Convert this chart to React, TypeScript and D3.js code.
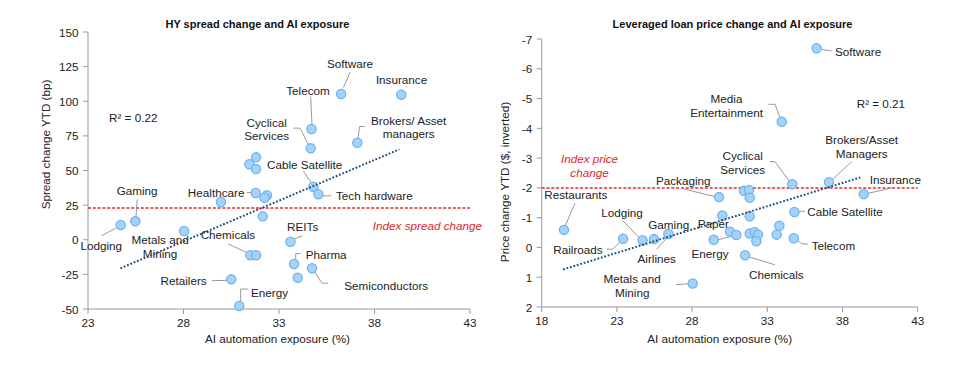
import React from "react";
import * as d3 from "d3";

// ---------------- Data: HY spread chart ----------------
const hySectors = [
  "Software", "Insurance", "Telecom", "Cyclical Services", "Brokers/ Asset managers",
  "", "", "", "Cable Satellite", "Tech hardware", "Healthcare", "", "", "", "",
  "Gaming", "Lodging", "Metals and Mining", "REITs", "Chemicals", "", "Pharma",
  "Semiconductors", "", "Retailers", "Energy",
];
const hyExposure = [
  36.25, 39.4, 34.7, 34.66, 37.1, 31.8, 31.45, 31.8, 34.8, 35.06, 31.78, 32.37, 32.25,
  29.96, 32.15, 25.48, 24.71, 28.03, 33.6, 31.5, 31.8, 33.79, 34.73, 33.98, 30.5, 30.92,
];
const hySpread = [
  105.2, 104.7, 80, 66, 70, 59.5, 54.5, 51, 38.3, 32.8, 33.8, 32.1, 30.3,
  27.3, 16.9, 13.3, 10.6, 6.3, -1.4, -11.2, -11.2, -17.5, -20.6, -27.4, -28.6, -47.8,
];
const hyXTicks = [23, 28, 33, 38, 43];
const hyYTicks = [150, 125, 100, 75, 50, 25, 0, -25, -50];
const hyIndex = 22.9;
const hyTrendX = [24.7, 39.3];
const hyTrendY = [-20.6, 65.3];
const hyR2 = "R² = 0.22";

// ---------------- Data: Leveraged loan chart ----------------
const loanSectors = [
  "Software", "Media Entertainment", "Cyclical Services", "Brokers/Asset Managers", "Insurance",
  "Cable Satellite", "Telecom", "Chemicals", "Packaging", "Restaurants", "Lodging", "Railroads",
  "Gaming", "Airlines", "Paper", "", "", "Energy", "", "", "", "", "", "", "", "", "", "",
  "Metals and Mining",
];
const loanExposure = [
  36.28, 33.96, 34.66, 37.1, 39.41, 34.8, 34.76, 31.52, 29.79, 19.48, 24.71, 23.41,
  25.47, 26.42, 30.01, 29.44, 30.52, 30.94, 31.45, 31.78, 31.83, 31.83, 31.83, 32.16,
  32.38, 32.27, 33.62, 33.8, 28.04,
];
const loanPrice = [
  -6.69, -4.22, -2.12, -2.19, -1.79, -1.19, -0.31, 0.26, -1.69, -0.59, -0.24, -0.29,
  -0.28, -0.45, -1.07, -0.26, -0.53, -0.42, -1.9, -1.93, -1.67, -1.05, -0.47, -0.51,
  -0.43, -0.21, -0.43, -0.73, 1.21,
];
const loanXTicks = [18, 23, 28, 33, 38, 43];
const loanYTicks = [-7, -6, -5, -4, -3, -2, -1, 0, 1, 2];
const loanIndex = -2.0;
const loanTrendX = [19.42, 39.18];
const loanTrendY = [0.74, -2.35];
const loanR2 = "R² = 0.21";

// ---------------- Layout (label placement, pixel offsets) ----------------
type Lbl = { name: string; lines: string[]; dx: number; dy: number; anchor: string; leader: number[][] };

const hyLabels: Lbl[] = [
  { name: "Software", lines: ["Software"], dx: 9, dy: -30.7, anchor: "middle", leader: [[9, -22], [2.4, -6.5]] },
  { name: "Insurance", lines: ["Insurance"], dx: 0.3, dy: -15.7, anchor: "middle", leader: [] },
  { name: "Telecom", lines: ["Telecom"], dx: -3.5, dy: -38.5, anchor: "middle", leader: [[-0.8, -32.5], [0.5, -4.5]] },
  { name: "Cyclical Services", lines: ["Cyclical", "Services"], dx: -44, dy: -26.2, anchor: "middle", leader: [[-17.4, -20.2], [-10.7, -20.2], [-2.2, -3.4]] },
  { name: "Brokers/ Asset managers", lines: ["Brokers/ Asset", "managers"], dx: 51.4, dy: -22.8, anchor: "middle", leader: [[7.7, -16.3], [2.2, -16.3], [0.7, -4.3]] },
  { name: "Cable Satellite", lines: ["Cable Satellite"], dx: -8.7, dy: -22.7, anchor: "middle", leader: [[-10.1, -15.7], [-1.7, -3.4]] },
  { name: "Tech hardware", lines: ["Tech hardware"], dx: 17.7, dy: 1.5, anchor: "start", leader: [[4.5, 1.5], [13, 1.5]] },
  { name: "Healthcare", lines: ["Healthcare"], dx: -11.3, dy: -0.4, anchor: "end", leader: [[-8.8, -0.4], [-4.5, -0.4]] },
  { name: "Gaming", lines: ["Gaming"], dx: 1.8, dy: -30.7, anchor: "middle", leader: [[1.9, -22.1], [0.6, -4.4]] },
  { name: "Lodging", lines: ["Lodging"], dx: -19.4, dy: 20.9, anchor: "middle", leader: [[-19, 10.6], [-4.7, 3.2]] },
  { name: "Metals and Mining", lines: ["Metals and", "Mining"], dx: -24, dy: 8.8, anchor: "middle", leader: [] },
  { name: "REITs", lines: ["REITs"], dx: 12.2, dy: -15, anchor: "middle", leader: [[3.5, -2.5], [12, -6]] },
  { name: "Chemicals", lines: ["Chemicals"], dx: -22.4, dy: -20.3, anchor: "middle", leader: [[-22.1, -11.3], [-2.1, -2]] },
  { name: "Pharma", lines: ["Pharma"], dx: 11.6, dy: -9.4, anchor: "start", leader: [[6.6, -10.4], [1.6, -10.4], [1.6, -4]] },
  { name: "Semiconductors", lines: ["Semiconductors"], dx: 32.3, dy: 17.3, anchor: "start", leader: [[2.5, 3.1], [9.7, 14.9], [16.3, 14.9]] },
  { name: "Retailers", lines: ["Retailers"], dx: -24.6, dy: 1.6, anchor: "end", leader: [[-19.6, 1.3], [-4.6, 1]] },
  { name: "Energy", lines: ["Energy"], dx: 11.7, dy: -13.9, anchor: "start", leader: [[9, -16.9], [1.4, -16.9], [1.4, -4.9]] },
];

const loanLabels: Lbl[] = [
  { name: "Software", lines: ["Software"], dx: 18.4, dy: 2.8, anchor: "start", leader: [[4.9, 1.1], [15, 2.8]] },
  { name: "Media Entertainment", lines: ["Media", "Entertainment"], dx: -55.2, dy: -23.5, anchor: "middle", leader: [[-13.4, -17.5], [-6.7, -17.5], [-1.7, -3.8]] },
  { name: "Cyclical Services", lines: ["Cyclical", "Services"], dx: -49.6, dy: -28.4, anchor: "middle", leader: [[-22.3, -22.7], [-17.3, -22.7], [-2.8, -2.9]] },
  { name: "Brokers/Asset Managers", lines: ["Brokers/Asset", "Managers"], dx: 32.7, dy: -42.3, anchor: "middle", leader: [[22.7, -20.6], [3.5, -2.8]] },
  { name: "Insurance", lines: ["Insurance"], dx: 31.6, dy: -14.9, anchor: "middle", leader: [[29.6, -6.5], [4.6, -0.9]] },
  { name: "Cable Satellite", lines: ["Cable Satellite"], dx: 12.9, dy: -0.9, anchor: "start", leader: [[4.6, -0.6], [10.5, -0.9]] },
  { name: "Telecom", lines: ["Telecom"], dx: 17.9, dy: 6.8, anchor: "start", leader: [[3.5, 2], [8, 5.5], [14, 6]] },
  { name: "Chemicals", lines: ["Chemicals"], dx: 31.3, dy: 19.7, anchor: "middle", leader: [[4, 1.7], [30, 9.7]] },
  { name: "Packaging", lines: ["Packaging"], dx: -35.8, dy: -16.5, anchor: "middle", leader: [[-35.7, -8.2], [-4, -0.5]] },
  { name: "Restaurants", lines: ["Restaurants"], dx: 11.8, dy: -35, anchor: "middle", leader: [[11, -26.7], [1.5, -4.5]] },
  { name: "Lodging", lines: ["Lodging"], dx: -20.6, dy: -27.7, anchor: "middle", leader: [[-19.9, -19.7], [-3.6, -2.9]] },
  { name: "Railroads", lines: ["Railroads"], dx: -20.4, dy: 11.1, anchor: "end", leader: [[-16.4, 10.4], [-10.4, 10.4], [-3.1, 3.1]] },
  { name: "Gaming", lines: ["Gaming"], dx: 14.7, dy: -14.2, anchor: "middle", leader: [] },
  { name: "Airlines", lines: ["Airlines"], dx: -11.6, dy: 24.1, anchor: "middle", leader: [[-11.6, 15.1], [-1.5, 4]] },
  { name: "Paper", lines: ["Paper"], dx: -8.9, dy: 7.5, anchor: "middle", leader: [] },
  { name: "Energy", lines: ["Energy"], dx: -26.3, dy: 18.3, anchor: "middle", leader: [[-22, 6], [-4, 1]] },
  { name: "Metals and Mining", lines: ["Metals and", "Mining"], dx: -60.5, dy: -4.7, anchor: "middle", leader: [[-16.7, 1.3], [-4.7, 0.3]] },
];

const FONT = "'Liberation Sans', Arial, Helvetica, sans-serif";
const FS = 11.7;
const TEXT = "#222";
const AXIS = "#999";
const LEADER = "#9a9a9a";
const DOT_FILL = "#a6d2f7";
const DOT_STROKE = "#6db4ef";
const TREND = "#1f4e79";
const RED = "#e0282e";

type PanelProps = {
  title: string; titleX: number;
  xTitle: string; xTitleX: number;
  yTitle: string; yTitleX: number; yTitleY: number;
  xDomain: [number, number]; xRange: [number, number];
  yDomain: [number, number]; yRange: [number, number];
  xTicks: number[]; yTicks: number[];
  names: string[]; xs: number[]; ys: number[];
  labels: Lbl[];
  indexVal: number; indexLines: string[]; indexX: number; indexY: number; indexAnchor: string;
  trendX: number[]; trendY: number[];
  r2: string; r2X: number; r2Y: number;
};

function Panel(p: PanelProps) {
  const x = d3.scaleLinear().domain(p.xDomain).range(p.xRange);
  const y = d3.scaleLinear().domain(p.yDomain).range(p.yRange);
  const x0 = p.xRange[0], x1 = p.xRange[1];
  const yBottom = Math.max(p.yRange[0], p.yRange[1]);
  const yTop = Math.min(p.yRange[0], p.yRange[1]);
  const line = d3.line<number[]>().x((d) => d[0]).y((d) => d[1]);
  const LH = 13.8;
  return (
    <g fontFamily={FONT}>
      <text x={p.titleX} y={24} textAnchor="middle" dominantBaseline="central" fontWeight="bold" fontSize={11} fill="#111">{p.title}</text>
      {/* axes */}
      <line x1={x0} x2={x0} y1={yTop} y2={yBottom} stroke={AXIS} strokeWidth={1} />
      <line x1={x0} x2={x1} y1={yBottom} y2={yBottom} stroke={AXIS} strokeWidth={1} />
      {p.yTicks.map((t) => (
        <g key={"yt" + t}>
          <line x1={x0 - 5} x2={x0} y1={y(t)} y2={y(t)} stroke={AXIS} />
          <text x={x0 - 9.5} y={y(t)} textAnchor="end" dominantBaseline="central" fontSize={FS} fill={TEXT}>{t}</text>
        </g>
      ))}
      {p.xTicks.map((t) => (
        <g key={"xt" + t}>
          <line x1={x(t)} x2={x(t)} y1={yBottom} y2={yBottom + 5} stroke={AXIS} />
          <text x={x(t)} y={yBottom + 13.5} textAnchor="middle" dominantBaseline="central" fontSize={FS} fill={TEXT}>{t}</text>
        </g>
      ))}
      <text x={p.xTitleX} y={338} textAnchor="middle" dominantBaseline="central" fontSize={FS} fill={TEXT}>{p.xTitle}</text>
      <text transform={`translate(${p.yTitleX},${p.yTitleY}) rotate(-90)`} textAnchor="middle" dominantBaseline="central" fontSize={FS} fill={TEXT}>{p.yTitle}</text>
      {/* index line */}
      <line x1={x0} x2={x1} y1={y(p.indexVal)} y2={y(p.indexVal)} stroke={RED} strokeWidth={1.5} strokeDasharray="3,1.8" />
      {p.indexLines.map((s, i) => (
        <text key={"il" + i} x={p.indexX} y={p.indexY + i * 14} textAnchor={p.indexAnchor} dominantBaseline="central" fontSize={FS} fontStyle="italic" fill={RED}>{s}</text>
      ))}
      <text x={p.r2X} y={p.r2Y} textAnchor="start" dominantBaseline="central" fontSize={FS} fill={TEXT}>{p.r2}</text>
      {/* labels + leaders */}
      {p.labels.map((l) => {
        const i = p.names.indexOf(l.name);
        const cx = x(p.xs[i]), cy = y(p.ys[i]);
        return (
          <g key={"lb" + l.name}>
            {l.leader.length > 1 && (
              <path d={line(l.leader.map((o) => [cx + o[0], cy + o[1]])) || ""} fill="none" stroke={LEADER} strokeWidth={1} />
            )}
            {l.lines.map((s, k) => (
              <text key={k} x={cx + l.dx} y={cy + l.dy + k * LH} textAnchor={l.anchor} dominantBaseline="central" fontSize={FS} fill={TEXT}>{s}</text>
            ))}
          </g>
        );
      })}
      {/* points */}
      {p.xs.map((v, i) => (
        <circle key={"pt" + i} cx={x(v)} cy={y(p.ys[i])} r={4.6} fill={DOT_FILL} stroke={DOT_STROKE} strokeWidth={1.3} />
      ))}
      {/* trend */}
      <line x1={x(p.trendX[0])} y1={y(p.trendY[0])} x2={x(p.trendX[1])} y2={y(p.trendY[1])} stroke={TREND} strokeWidth={2} strokeDasharray="1.8,1.8" />
    </g>
  );
}

export default function App() {
  return (
    <svg width={961} height={378} style={{ position: "absolute", left: 0, top: 0, background: "#fff" }}>
      <rect width={961} height={378} fill="#fff" />
      <Panel
        title="HY spread change and AI exposure" titleX={257.5}
        xTitle="AI automation exposure (%)" xTitleX={277.5}
        yTitle="Spread change YTD (bp)" yTitleX={45} yTitleY={144.5}
        xDomain={[23, 43]} xRange={[88, 470]}
        yDomain={[-50, 150]} yRange={[309, 32]}
        xTicks={hyXTicks} yTicks={hyYTicks}
        names={hySectors} xs={hyExposure} ys={hySpread}
        labels={hyLabels}
        indexVal={hyIndex} indexLines={["Index spread change"]} indexX={482} indexY={225.7} indexAnchor="end"
        trendX={hyTrendX} trendY={hyTrendY}
        r2={hyR2} r2X={109} r2Y={117}
      />
      <Panel
        title="Leveraged loan price change and AI exposure" titleX={732.5}
        xTitle="AI automation exposure (%)" xTitleX={719.7}
        yTitle="Price change YTD ($, inverted)" yTitleX={504} yTitleY={182}
        xDomain={[18, 43]} xRange={[541.7, 917.7]}
        yDomain={[-7, 2]} yRange={[39, 307]}
        xTicks={loanXTicks} yTicks={loanYTicks}
        names={loanSectors} xs={loanExposure} ys={loanPrice}
        labels={loanLabels}
        indexVal={loanIndex} indexLines={["Index price", "change"]} indexX={589.5} indexY={158.3} indexAnchor="middle"
        trendX={loanTrendX} trendY={loanTrendY}
        r2={loanR2} r2X={856.7} r2Y={103.3}
      />
    </svg>
  );
}
